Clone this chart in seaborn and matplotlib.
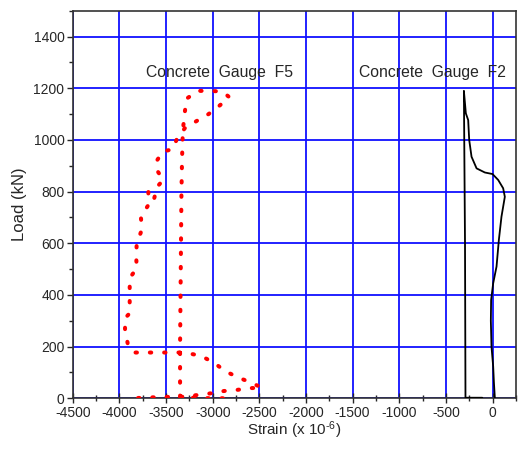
import matplotlib
matplotlib.use("Agg")
import matplotlib.pyplot as plt
from matplotlib.ticker import MultipleLocator
import seaborn as sns
import pandas as pd

# Concrete gauge F5 (red dotted loop), strain in microstrain, load in kN
f5_strain = [-2890, -3020, -3200, -3350, -3350, -3345, -3340, -3335, -3330, -3325, -3320,
             -3300, -3300, -3280, -3155, -3020, -2895, -2820, -2930, -3045, -3165, -3300,
             -3385, -3430, -3535, -3595, -3600, -3530, -3595, -3630, -3690, -3690, -3770,
             -3760, -3815, -3820, -3815, -3890, -3890, -3890, -3890, -3940, -3940, -3905,
             -3830, -3780, -3655, -3520, -3350, -3260, -3125, -2995, -2855, -2725, -2590,
             -2475, -2605, -2745, -2880, -3020, -3155, -3295, -3430, -3565, -3705, -3850]
f5_load = [0, 0, 2, 5, 200, 400, 600, 800, 900, 980, 1040,
           1100, 1105, 1160, 1190, 1190, 1187, 1165, 1132, 1100, 1075, 1045,
           1003, 964, 955, 922, 884, 845, 819, 770, 803, 748, 703,
           652, 600, 548, 503, 465, 413, 368, 329, 310, 265, 200,
           177, 177, 177, 177, 177, 174, 164, 139, 103, 80, 61,
           41, 39, 32, 28, 19, 13, 6, 6, 4, 3, 0]

# Concrete gauge F2 (black solid line)
f2_strain = [25, 15, 7, -11, -18, -15, 7, 43, 68, 96, 132, 114, 61, 0, -82, -171, -225,
             -250, -261, -286, -307, -295, -290, -110]
f2_load = [0, 60, 123, 200, 300, 380, 445, 510, 613, 703, 780, 813, 845, 868, 874, 890, 935,
           1000, 1077, 1103, 1190, 600, 2, 2]

sns.set_style("white")
plt.rcParams["font.family"] = ["Liberation Sans", "DejaVu Sans"]
plt.rcParams["axes.unicode_minus"] = False
plt.rcParams["mathtext.fontset"] = "custom"
plt.rcParams["mathtext.rm"] = "Liberation Sans"
plt.rcParams["mathtext.it"] = "Liberation Sans"
plt.rcParams["mathtext.default"] = "regular"

fig = plt.figure(figsize=(5.2, 4.5), dpi=100)
ax = fig.add_axes([0.14, 0.115, 0.852, 0.861])

df5 = pd.DataFrame({"strain": f5_strain, "load": f5_load})
df2 = pd.DataFrame({"strain": f2_strain, "load": f2_load})

sns.lineplot(data=df5, x="strain", y="load", sort=False, estimator=None, ax=ax,
             color="red", linewidth=2.9, zorder=3)
ax.lines[-1].set_linestyle((0, (0.35, 3.2)))
ax.lines[-1].set_dash_capstyle("round")
sns.lineplot(data=df2, x="strain", y="load", sort=False, estimator=None, ax=ax,
             color="black", linewidth=1.3, zorder=3)

ax.set_xlim(-4500, 250)
ax.set_ylim(0, 1500)
ax.xaxis.set_major_locator(MultipleLocator(500))
ax.xaxis.set_minor_locator(MultipleLocator(250))
ax.yaxis.set_major_locator(MultipleLocator(200))
ax.yaxis.set_minor_locator(MultipleLocator(100))
ax.grid(True, which="major", color="#1010ff", linewidth=1.3, zorder=1)
ax.set_axisbelow(True)

ax.tick_params(axis="x", which="both", direction="inout", bottom=True, labelsize=10, pad=2)
ax.tick_params(axis="x", which="major", length=7, width=1)
ax.tick_params(axis="x", which="minor", length=5, width=1)
ax.tick_params(axis="y", which="both", direction="out", left=True, labelsize=10, pad=2)
ax.tick_params(axis="y", which="major", length=4, width=1)
ax.tick_params(axis="y", which="minor", length=3, width=1)
for s in ax.spines.values():
    s.set_color("#333333")
    s.set_linewidth(1.2)

ax.set_xlabel(r"Strain (x 10$^{\text{-}6}$)", fontsize=11, labelpad=0)
ax.set_ylabel("Load (kN)", fontsize=12, labelpad=5)

ax.text(-2930, 1263, "Concrete  Gauge  F5", fontsize=11.3, ha="center", va="center")
ax.text(-640, 1263, "Concrete  Gauge  F2", fontsize=11.3, ha="center", va="center")

fig.savefig("out.png", dpi=100)
